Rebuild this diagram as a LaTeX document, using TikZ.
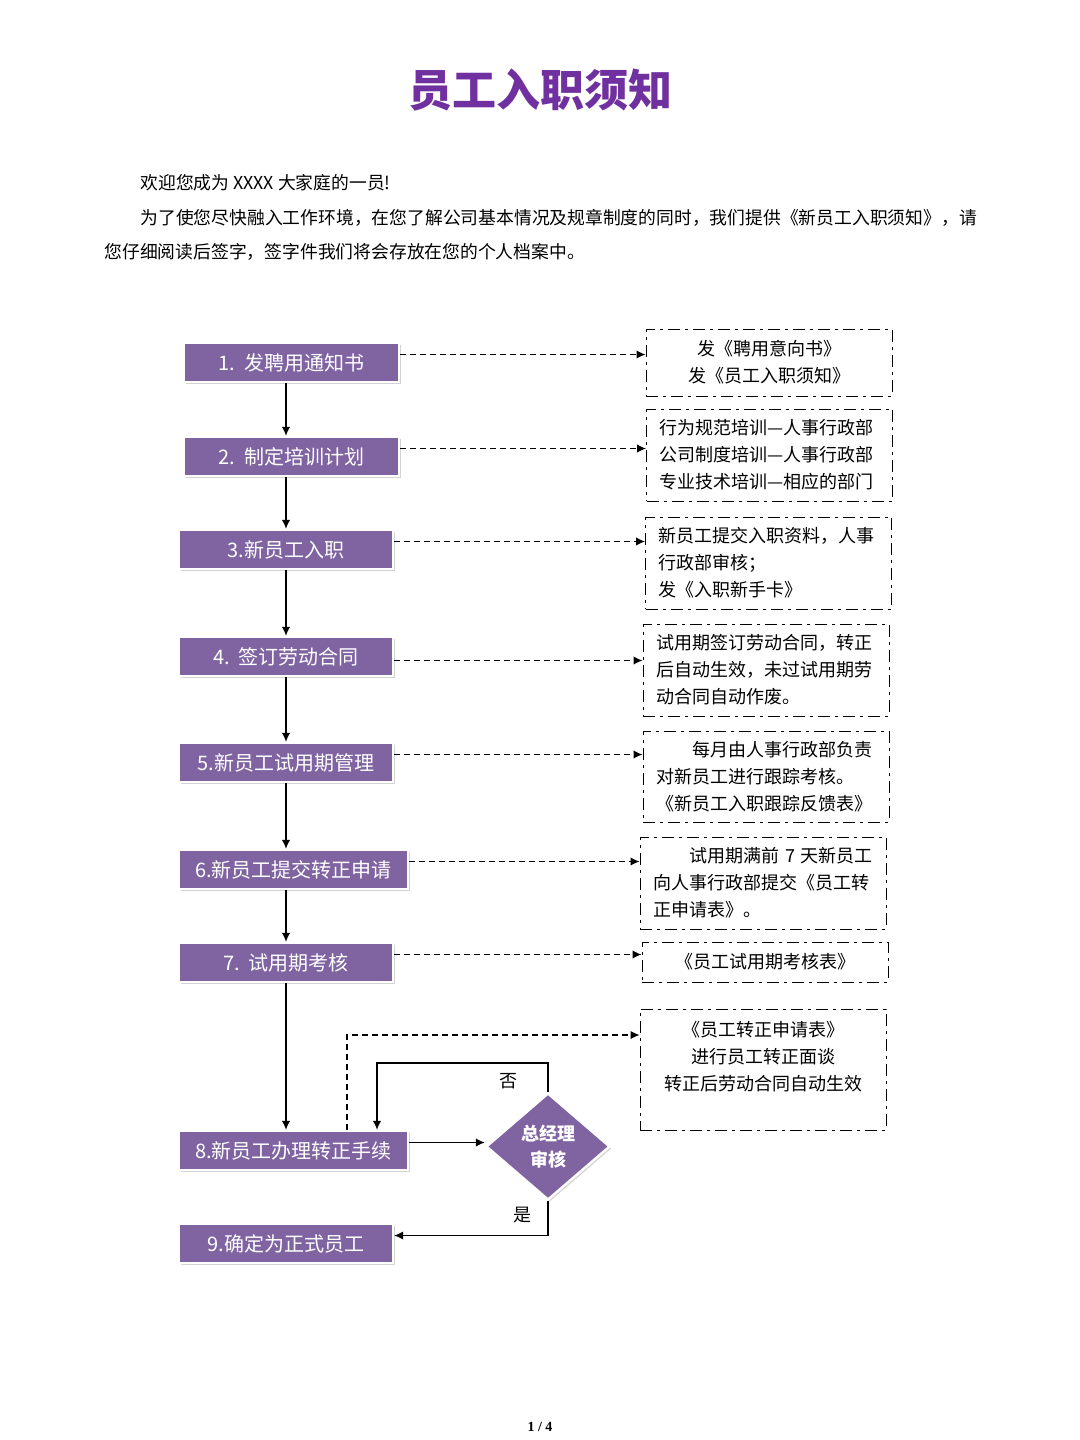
\documentclass[tikz,border=0pt]{standalone}
\usepackage{fontspec}
\setmainfont{Noto Sans CJK SC}
\newfontfamily\pagefont{Liberation Serif}
\usetikzlibrary{shapes,arrows.meta}
\usetikzlibrary{shadows}

\definecolor{stepfill}{HTML}{8064A2}
\definecolor{titlepurple}{HTML}{7030A0}

\tikzset{
    stepbox/.style={rectangle, fill=stepfill, draw=white, line width=1.2pt, text=white,
        minimum height=19.5pt, inner sep=0pt, font=\fontsize{10}{12}\selectfont,
        drop shadow={shadow xshift=0.8pt, shadow yshift=-1pt, opacity=0.35}},
    decision/.style={diamond, fill=stepfill, draw=white, line width=1.2pt, text=white,
        inner sep=0pt, minimum width=62pt, minimum height=53.5pt, align=center,
        font=\fontsize{9}{13}\selectfont\bfseries,
        drop shadow={shadow xshift=0.8pt, shadow yshift=-1pt, opacity=0.35}},
    notebox/.style={rectangle, draw, line width=0.5pt,
        dash pattern=on 6pt off 2.5pt on 1.5pt off 2.5pt,
        text width=110pt, inner xsep=6.5pt, inner ysep=0pt, align=left,
        font=\fontsize{9}{13.5}\selectfont},
    intro/.style={anchor=west, inner sep=0pt, font=\fontsize{8.9}{11}\selectfont},
    flow/.style={-{Latex[length=4.5pt,width=4.2pt]}, line width=0.6pt},
    link/.style={-{Latex[length=4.5pt,width=4.2pt]}, line width=0.6pt, dash pattern=on 3pt off 2pt},
}

\begin{document}
\begin{tikzpicture}[x=0.5pt, y=-0.5pt]
        \useasboundingbox (0,0) rectangle (1080,1440);

        % heading
        \node[font=\fontsize{22}{26}\selectfont\bfseries, text=titlepurple] (title) at (540,90) {员工入职须知};
        \node[intro] (intro1) at (140,183) {欢迎您成为 XXXX 大家庭的一员!};
        \node[intro] (intro2) at (140,218) {为了使您尽快融入工作环境，在您了解公司基本情况及规章制度的同时，我们提供《新员工入职须知》，请};
        \node[intro] (intro3) at (104,252) {您仔细阅读后签字，签字件我们将会存放在您的个人档案中。};

        % steps
        \node[stepbox, minimum width=107.5pt] (s1) at (291.5,362.5) {1.\ \ 发聘用通知书};
        \node[stepbox, minimum width=107.5pt] (s2) at (291.5,456.5) {2.\ \ 制定培训计划};
        \node[stepbox, minimum width=107pt]   (s3) at (286,549.5)   {3.新员工入职};
        \node[stepbox, minimum width=107pt]   (s4) at (286,656.5)   {4.\ \ 签订劳动合同};
        \node[stepbox, minimum width=107pt]   (s5) at (286,762.5)   {5.新员工试用期管理};
        \node[stepbox, minimum width=114.5pt] (s6) at (293.5,869.5) {6.新员工提交转正申请};
        \node[stepbox, minimum width=107pt]   (s7) at (286,962.5)   {7.\ \ 试用期考核};
        \node[stepbox, minimum width=114.5pt] (s8) at (293.5,1150.5) {8.新员工办理转正手续};
        \node[stepbox, minimum width=107pt]   (s9) at (286,1243.5)  {9.确定为正式员工};
        \node[decision] (check) at (548,1146.5) {总经理\\审核};

        % notes
        \node[notebox, minimum height=33.5pt, align=center] (n1) at (769,362.5) {发《聘用意向书》\\发《员工入职须知》};
        \node[notebox, minimum height=46pt] (n2) at (769.5,455) {行为规范培训—人事行政部\\公司制度培训—人事行政部\\专业技术培训—相应的部门};
        \node[notebox, minimum height=46pt] (n3) at (768.5,563) {新员工提交入职资料，人事\\行政部审核；\\发《入职新手卡》};
        \node[notebox, minimum height=46pt] (n4) at (766,670) {试用期签订劳动合同，转正\\后自动生效，未过试用期劳\\动合同自动作废。};
        \node[notebox, minimum height=45.5pt] (n5) at (766,776.5) {\hspace*{2em}每月由人事行政部负责\\对新员工进行跟踪考核。\\《新员工入职跟踪反馈表》};
        \node[notebox, minimum height=46pt] (n6) at (763,883) {\hspace*{2em}试用期满前 7 天新员工\\向人事行政部提交《员工转\\正申请表》。};
        \node[notebox, minimum height=20pt, align=center] (n7) at (765,962) {《员工试用期考核表》};
        \node[notebox, minimum height=60.5pt, align=center] (n8) at (763,1069.5) {《员工转正申请表》\\进行员工转正面谈\\转正后劳动合同自动生效\\\mbox{}};

        % main line
        \draw[flow] (s1.south -| s3) -- (s2.north -| s3);
        \draw[flow] (s2.south -| s3) -- (s3.north);
        \draw[flow] (s3.south) -- (s4.north);
        \draw[flow] (s4.south) -- (s5.north);
        \draw[flow] (s5.south) -- (s6.north -| s5);
        \draw[flow] (s6.south -| s5) -- (s7.north);
        \draw[flow] (s7.south) -- (s8.north -| s7);

        % documents for each step
        \draw[link] ([yshift=4pt]s1.east) -- ([yshift=4pt]s1.east -| n1.west);
        \draw[link] ([yshift=4pt]s2.east) -- ([yshift=4pt]s2.east -| n2.west);
        \draw[link] ([yshift=4pt]s3.east) -- ([yshift=4pt]s3.east -| n3.west);
        \draw[link] ([yshift=-2pt]s4.east) -- ([yshift=-2pt]s4.east -| n4.west);
        \draw[link] ([yshift=4pt]s5.east) -- ([yshift=4pt]s5.east -| n5.west);
        \draw[link] ([yshift=4pt]s6.east) -- ([yshift=4pt]s6.east -| n6.west);
        \draw[link] ([yshift=4pt]s7.east) -- ([yshift=4pt]s7.east -| n7.west);
        \coordinate (c8) at (347,1035);
        \draw[link] (s8.north -| c8) -- (c8) -- (c8 -| n8.west);

        % review by the general manager
        \draw[flow] ([yshift=4pt]s8.east) -- ([yshift=4pt]s8.east -| check.west);
        \coordinate (back) at (377,1063);
        \draw[flow] (check.north) |- (back) -- (back |- s8.north);
        \node[font=\fontsize{9}{11}\selectfont] (no) at (508,1081) {否};
        \draw[flow] (check.south) |- ([yshift=4pt]s9.east);
        \node[font=\fontsize{9}{11}\selectfont] (yes) at (522,1215) {是};

        \node[font=\pagefont\fontsize{7}{8}\selectfont\bfseries] (page) at (540,1427) {1 / 4};
\end{tikzpicture}
\end{document}
